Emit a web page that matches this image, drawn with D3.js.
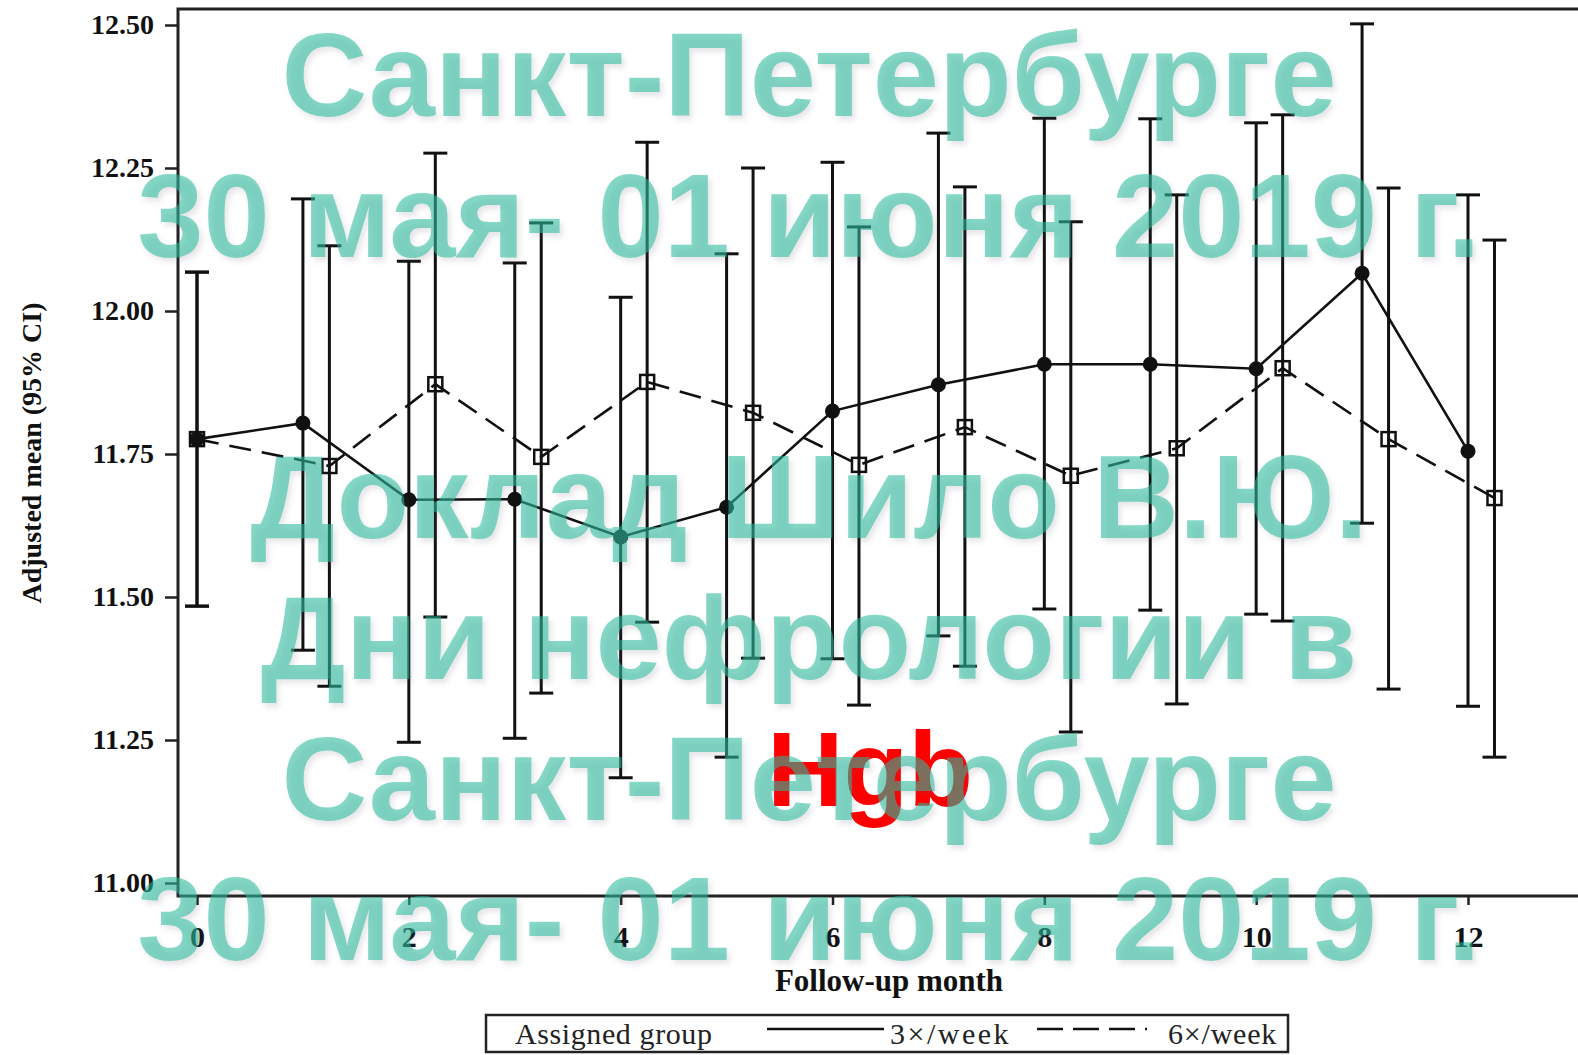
<!DOCTYPE html>
<html>
<head>
<meta charset="utf-8">
<script src="https://cdn.jsdelivr.net/npm/d3@7"></script>
<style>
  html, body { margin: 0; padding: 0; background: #ffffff; }
  svg { display: block; }
</style>
</head>
<body>
<svg id="chart" width="1578" height="1055"></svg>
<script>
// Follow-up months
const months = [0, 1, 2, 3, 4, 5, 6, 7, 8, 9, 10, 11, 12];

// 3x/week group: adjusted mean Hgb and 95% CI
const threeMean = [11.776, 11.804, 11.670, 11.671, 11.605, 11.657, 11.825, 11.871, 11.907, 11.907, 11.899, 12.066, 11.755];
const threeLow  = [11.484, 11.407, 11.246, 11.253, 11.184, 11.220, 11.392, 11.432, 11.479, 11.477, 11.470, 11.629, 11.309];
const threeHigh = [12.068, 12.196, 12.087, 12.084, 12.024, 12.100, 12.260, 12.311, 12.337, 12.336, 12.329, 12.502, 12.203];

// 6x/week group: adjusted mean Hgb and 95% CI
const sixMean = [11.776, 11.729, 11.872, 11.745, 11.876, 11.822, 11.731, 11.797, 11.712, 11.760, 11.900, 11.776, 11.673];
const sixLow  = [11.484, 11.344, 11.465, 11.332, 11.456, 11.393, 11.311, 11.379, 11.264, 11.313, 11.458, 11.339, 11.220];
const sixHigh = [12.068, 12.114, 12.276, 12.154, 12.295, 12.250, 12.147, 12.217, 12.156, 12.203, 12.343, 12.215, 12.124];

// Axis ticks
const yTicks = [11.00, 11.25, 11.50, 11.75, 12.00, 12.25, 12.50];
const xTicks = [0, 2, 4, 6, 8, 10, 12];

// Text
const yTitle = "Adjusted mean (95% CI)";
const xTitle = "Follow-up month";
const legendTitle = "Assigned group";
const groupNames = ["3×/week", "6×/week"];
const chartLabel = "Hgb";
const bannerLines = [
  "Санкт-Петербурге",
  "30 мая- 01 июня 2019 г.",
  "",
  "Доклад Шило В.Ю.",
  "Дни нефрологии в",
  "Санкт-Петербурге",
  "30 мая- 01 июня 2019 г."
];

// 6x/week points are nudged right after baseline so the bars don't overlap
const dodge = 0.25;

const svg = d3.select("#chart");
const serif = "'Liberation Serif', 'DejaVu Serif', serif";
const sans = "'Liberation Sans', Arial, sans-serif";

const x = d3.scaleLinear().domain([0, 12]).range([197, 1468]);
const y = d3.scaleLinear().domain([11, 12.5]).range([883, 25]);

const frame = { left: 178, top: 9, bottom: 896, right: 1600 };

// plot frame
svg.append("rect")
  .attr("x", frame.left).attr("y", frame.top)
  .attr("width", frame.right - frame.left).attr("height", frame.bottom - frame.top)
  .attr("fill", "none").attr("stroke", "#222").attr("stroke-width", 3);

// y axis
const yAxis = svg.append("g")
  .attr("transform", `translate(${frame.left},0)`)
  .call(d3.axisLeft(y).tickValues(yTicks).tickFormat(d3.format(".2f")).tickSize(13).tickPadding(11));
yAxis.select(".domain").remove();
yAxis.selectAll(".tick line").attr("stroke", "#222").attr("stroke-width", 2.5);
yAxis.selectAll(".tick text")
  .attr("font-family", serif).attr("font-weight", "bold").attr("font-size", 28)
  .attr("fill", "#111");

// x axis
const xAxis = svg.append("g")
  .attr("transform", `translate(0,${frame.bottom})`)
  .call(d3.axisBottom(x).tickValues(xTicks).tickFormat(d3.format("d")).tickSize(9).tickPadding(21));
xAxis.select(".domain").remove();
xAxis.selectAll(".tick line").attr("stroke", "#222").attr("stroke-width", 2.5);
xAxis.selectAll(".tick text")
  .attr("font-family", serif).attr("font-weight", "bold").attr("font-size", 30)
  .attr("fill", "#111");

// axis titles
svg.append("text")
  .attr("transform", "translate(41,453) rotate(-90)")
  .attr("text-anchor", "middle")
  .attr("font-family", serif).attr("font-weight", "bold").attr("font-size", 28)
  .attr("fill", "#111")
  .text(yTitle);

svg.append("text")
  .attr("x", 889).attr("y", 991)
  .attr("text-anchor", "middle")
  .attr("font-family", serif).attr("font-weight", "bold").attr("font-size", 31)
  .attr("fill", "#111")
  .text(xTitle);

// build series
const three = months.map((m, i) => ({ m: m, mean: threeMean[i], lo: threeLow[i], hi: threeHigh[i] }));
const six = months.map((m, i) => ({ m: m > 0 ? m + dodge : m, mean: sixMean[i], lo: sixLow[i], hi: sixHigh[i] }));

const plot = svg.append("g");

function errorBars(data) {
  const g = plot.append("g").attr("stroke", "#111").attr("stroke-width", 3);
  g.selectAll("line.v").data(data).join("line").attr("class", "v")
    .attr("x1", d => x(d.m)).attr("x2", d => x(d.m))
    .attr("y1", d => y(d.lo)).attr("y2", d => y(d.hi));
  g.selectAll("line.t").data(data).join("line").attr("class", "t")
    .attr("x1", d => x(d.m) - 12).attr("x2", d => x(d.m) + 12)
    .attr("y1", d => y(d.hi)).attr("y2", d => y(d.hi));
  g.selectAll("line.b").data(data).join("line").attr("class", "b")
    .attr("x1", d => x(d.m) - 12).attr("x2", d => x(d.m) + 12)
    .attr("y1", d => y(d.lo)).attr("y2", d => y(d.lo));
}
errorBars(three);
errorBars(six);

const line = d3.line().x(d => x(d.m)).y(d => y(d.mean));

plot.append("path").datum(six)
  .attr("d", line).attr("fill", "none")
  .attr("stroke", "#111").attr("stroke-width", 2.6)
  .attr("stroke-dasharray", "22,11");

plot.append("path").datum(three)
  .attr("d", line).attr("fill", "none")
  .attr("stroke", "#111").attr("stroke-width", 2.6);

// open squares for 6x/week
plot.selectAll("rect.sq").data(six).join("rect").attr("class", "sq")
  .attr("x", d => x(d.m) - 7).attr("y", d => y(d.mean) - 7)
  .attr("width", 14).attr("height", 14)
  .attr("fill", "none").attr("stroke", "#111").attr("stroke-width", 2.5);

// filled circles for 3x/week
plot.selectAll("circle.dot").data(three).join("circle").attr("class", "dot")
  .attr("cx", d => x(d.m)).attr("cy", d => y(d.mean)).attr("r", 7.5)
  .attr("fill", "#111");

// legend
const lg = svg.append("g");
lg.append("rect")
  .attr("x", 486).attr("y", 1015).attr("width", 802).attr("height", 37)
  .attr("fill", "none").attr("stroke", "#222").attr("stroke-width", 2.5);
lg.append("text")
  .attr("x", 515).attr("y", 1044)
  .attr("font-family", serif).attr("font-size", 30).attr("letter-spacing", 0.6).attr("fill", "#222")
  .text(legendTitle);
lg.append("line")
  .attr("x1", 767).attr("x2", 884).attr("y1", 1029).attr("y2", 1029)
  .attr("stroke", "#111").attr("stroke-width", 2.6);
lg.append("text")
  .attr("x", 890).attr("y", 1044)
  .attr("font-family", serif).attr("font-size", 30).attr("letter-spacing", 2.5).attr("fill", "#222")
  .text(groupNames[0]);
lg.append("line")
  .attr("x1", 1037).attr("x2", 1147).attr("y1", 1029).attr("y2", 1029)
  .attr("stroke", "#111").attr("stroke-width", 2.6)
  .attr("stroke-dasharray", "26,10");
lg.append("text")
  .attr("x", 1168).attr("y", 1044)
  .attr("font-family", serif).attr("font-size", 30).attr("letter-spacing", 0.8).attr("fill", "#222")
  .text(groupNames[1]);

// chart label
svg.append("text")
  .attr("x", 870).attr("y", 806)
  .attr("text-anchor", "middle")
  .attr("font-family", sans).attr("font-weight", "bold").attr("font-size", 106)
  .attr("fill", "#f00")
  .text(chartLabel);

// event banner
const defs = svg.append("defs");
const shadow = defs.append("filter").attr("id", "soft").attr("x", "-5%").attr("y", "-20%").attr("width", "110%").attr("height", "140%");
shadow.append("feDropShadow").attr("dx", 3).attr("dy", 4).attr("stdDeviation", 2.5)
  .attr("flood-color", "#556").attr("flood-opacity", 0.25);

const banner = svg.append("g").attr("filter", "url(#soft)");
banner.selectAll("text").data(bannerLines).join("text")
  .attr("x", 809)
  .attr("y", (d, i) => 116 + i * 140.7)
  .attr("text-anchor", "middle")
  .attr("font-family", sans).attr("font-weight", "bold").attr("font-size", 119)
  .attr("fill", "rgb(40,185,155)").attr("fill-opacity", 0.56)
  .text(d => d);
</script>
</body>
</html>
